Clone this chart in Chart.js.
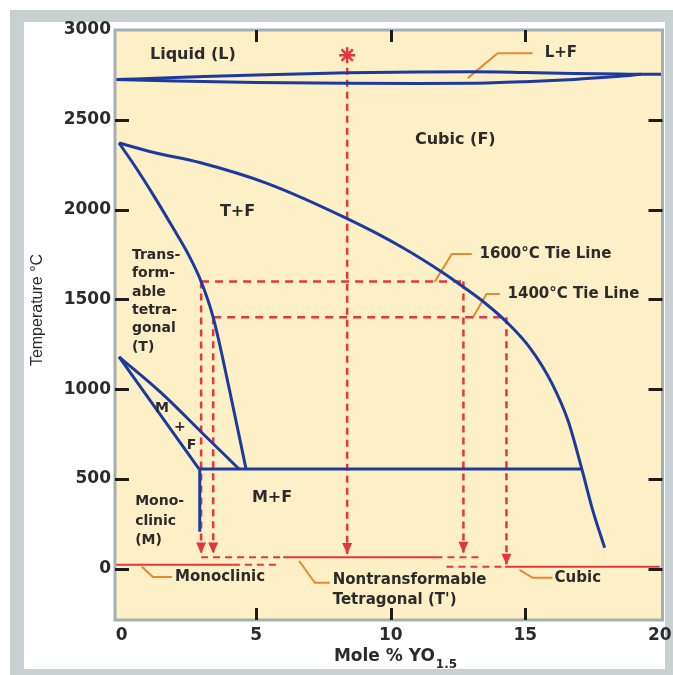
<!DOCTYPE html>
<html>
<head>
<meta charset="utf-8">
<script src="https://cdn.jsdelivr.net/npm/chart.js@4.4.0/dist/chart.umd.min.js"></script>
<style>
  html, body { margin: 0; padding: 0; background: #fff; }
</style>
</head>
<body>
<canvas id="phaseChart" width="673" height="675"></canvas>
<script>
// Axis ticks
const xTicks = [0, 5, 10, 15, 20];
const yTicks = [0, 500, 1000, 1500, 2000, 2500, 3000];

// Phase boundaries [mole % YO1.5, temperature °C]
const liquidUpper = [[-0.25, 2724], [2, 2735], [5, 2750], [8.4, 2762], [11, 2766], [13, 2767], [15, 2763], [16.8, 2758], [18.5, 2755], [19.3, 2753], [20.1, 2753]];
const liquidLower = [[-0.25, 2724], [2, 2716], [5, 2708], [8.4, 2703], [11, 2702], [13, 2703], [15, 2712], [16.8, 2725], [18.5, 2742], [19.3, 2753]];
const cubicBoundary = [[-0.1, 2371], [1.2, 2318], [2.9, 2262], [5.4, 2146], [8.4, 1948], [10.4, 1792], [11.9, 1653], [12.7, 1569], [13.5, 1480], [14.3, 1375], [15.2, 1225], [16.0, 1030], [16.6, 820], [17.1, 556], [17.5, 330], [17.95, 117]];
const tetragonalBoundary = [[-0.1, 2371], [0.5, 2240], [1.2, 2075], [1.9, 1900], [2.45, 1758], [2.95, 1600], [3.4, 1400], [4.0, 1000], [4.62, 556]];
const monoLensUpper = [[-0.1, 1180], [1.47, 979], [3.0, 755], [4.36, 556]];
const monoLensLower = [[-0.1, 1180], [2.87, 556]];
const eutectoid = [[2.87, 556], [17.1, 556]];
const monoVertical = [[2.9, 556], [2.9, 206]];

// Red tie lines and drop lines
const tie1600 = [[2.95, 1600], [12.7, 1600]];
const tie1400 = [[3.4, 1400], [14.3, 1400]];
const dropLines = [
  [[2.95, 1600], [2.95, 85]],
  [[3.4, 1400], [3.4, 85]],
  [[8.38, 2790], [8.38, 83]],
  [[12.7, 1600], [12.7, 90]],
  [[14.3, 1400], [14.3, 22]]
];
const starPoint = [[8.38, 2860]];

// Room temperature phase lines
const monoSolid = [[-0.25, 22], [4.13, 22]];
const monoDashed = [[4.13, 22], [5.8, 22]];
const tPrimeDashedL = [[2.95, 65], [6.0, 65]];
const tPrimeSolid = [[6.0, 65], [11.66, 65]];
const tPrimeDashedR = [[11.66, 65], [13.3, 65]];
const cubicDashed = [[12.07, 12], [14.25, 12]];
const cubicSolid = [[14.25, 12], [20.0, 12]];

// Callout leaders
const leaders = [
  [[12.86, 2732], [13.97, 2871], [15.27, 2871]],
  [[11.63, 1597], [12.27, 1753], [13.01, 1753]],
  [[13.04, 1397], [13.56, 1530], [14.05, 1530]],
  [[0.75, 11], [1.16, -45], [1.87, -45]],
  [[6.59, 45], [7.18, -78], [7.73, -78]],
  [[14.79, -6], [15.27, -50], [16.01, -50]]
];

// Text labels [text, x, y]
const regionLabels = [
  ['Liquid (L)', 1.05, 2860],
  ['Cubic (F)', 10.9, 2387],
  ['T+F', 3.65, 1987],
  ['M+F', 4.84, 395]
];
const smallLabels = [
  ['Trans-', 0.38, 1747], ['form-', 0.38, 1644], ['able', 0.38, 1541],
  ['tetra-', 0.38, 1441], ['gonal', 0.38, 1338], ['(T)', 0.38, 1235],
  ['M', 1.24, 896], ['+', 1.94, 790], ['F', 2.42, 690],
  ['Mono-', 0.5, 373], ['clinic', 0.5, 262], ['(M)', 0.5, 161]
];
const calloutLabels = [
  ['L+F', 15.72, 2871],
  ['1600°C Tie Line', 13.3, 1753],
  ['1400°C Tie Line', 14.34, 1530],
  ['Monoclinic', 1.98, -45],
  ['Nontransformable', 7.84, -61],
  ['Tetragonal (T\')', 7.84, -172],
  ['Cubic', 16.09, -50]
];

const BLUE = '#1d3a9e';
const RED = '#e3363f';
const ORANGE = '#e8882c';
const TEXT = '#2b2b2b';
const FONT = '"DejaVu Sans", sans-serif';

function seg(points, color, width, dash, smooth) {
  return {
    data: points.map(p => ({ x: p[0], y: p[1] })),
    showLine: true,
    borderColor: color,
    backgroundColor: color,
    borderWidth: width,
    borderDash: dash || [],
    pointRadius: 0,
    cubicInterpolationMode: smooth ? 'monotone' : 'default',
    tension: smooth ? 0.4 : 0
  };
}

const datasets = [
  seg(liquidUpper, BLUE, 3, null, true),
  seg(liquidLower, BLUE, 3, null, true),
  seg(cubicBoundary, BLUE, 3, null, true),
  seg(tetragonalBoundary, BLUE, 3, null, true),
  seg(monoLensUpper, BLUE, 3, null, true),
  seg(monoLensLower, BLUE, 3),
  seg(eutectoid, BLUE, 3),
  seg(monoVertical, BLUE, 3),
  seg(tie1600, RED, 2.5, [8, 6]),
  seg(tie1400, RED, 2.5, [8, 6]),
  seg(monoSolid, RED, 2),
  seg(monoDashed, RED, 2, [7, 5]),
  seg(tPrimeDashedL, RED, 2, [7, 5]),
  seg(tPrimeSolid, RED, 2),
  seg(tPrimeDashedR, RED, 2, [7, 5]),
  seg(cubicDashed, RED, 2, [7, 5]),
  seg(cubicSolid, RED, 2)
];
dropLines.forEach(d => datasets.push(seg(d, RED, 2.5, [7, 5])));
leaders.forEach(l => datasets.push(seg(l, ORANGE, 2)));
datasets.push({
  data: starPoint.map(p => ({ x: p[0], y: p[1] })),
  pointStyle: 'star',
  pointRadius: 8,
  borderColor: RED,
  borderWidth: 2.5,
  showLine: false
});

const decor = {
  id: 'decor',
  beforeDraw(chart) {
    const ctx = chart.ctx;
    const a = chart.chartArea;
    ctx.save();
    ctx.fillStyle = '#ffffff';
    ctx.fillRect(0, 0, chart.width, chart.height);
    ctx.fillStyle = '#c8d0d2';
    ctx.fillRect(10, 10, chart.width - 10, chart.height - 10);
    ctx.fillStyle = '#ffffff';
    ctx.fillRect(24, 22, 641, 647);
    ctx.fillStyle = '#fdf0c6';
    ctx.fillRect(a.left, a.top, a.right - a.left, a.bottom - a.top);
    ctx.restore();
  },
  afterDatasetsDraw(chart) {
    const ctx = chart.ctx;
    const a = chart.chartArea;
    const xs = chart.scales.x, ys = chart.scales.y;
    ctx.save();

    // arrow heads at the bottom of the drop lines
    ctx.fillStyle = RED;
    dropLines.forEach(d => {
      const px = xs.getPixelForValue(d[1][0]);
      const py = ys.getPixelForValue(d[1][1]);
      ctx.beginPath();
      ctx.moveTo(px, py);
      ctx.lineTo(px - 5, py - 11);
      ctx.lineTo(px + 5, py - 11);
      ctx.closePath();
      ctx.fill();
    });

    // frame
    ctx.strokeStyle = '#a3afb3';
    ctx.lineWidth = 3;
    ctx.strokeRect(a.left, a.top, a.right - a.left, a.bottom - a.top);

    // inner tick marks
    ctx.strokeStyle = '#1c1c1c';
    ctx.lineWidth = 3;
    yTicks.forEach(v => {
      if (v >= ys.max) return;
      const py = Math.round(ys.getPixelForValue(v)) + 0.5;
      ctx.beginPath();
      ctx.moveTo(a.left, py); ctx.lineTo(a.left + 14, py);
      ctx.moveTo(a.right - 14, py); ctx.lineTo(a.right, py);
      ctx.stroke();
    });
    xTicks.forEach(v => {
      if (v <= 0 || v >= 20) return;
      const px = Math.round(xs.getPixelForValue(v)) + 0.5;
      ctx.beginPath();
      ctx.moveTo(px, a.top); ctx.lineTo(px, a.top + 12);
      ctx.moveTo(px, a.bottom - 12); ctx.lineTo(px, a.bottom);
      ctx.stroke();
    });

    // text labels
    ctx.fillStyle = TEXT;
    ctx.textBaseline = 'middle';
    ctx.textAlign = 'left';
    const put = (list, font) => {
      ctx.font = font;
      list.forEach(l => ctx.fillText(l[0], xs.getPixelForValue(l[1]), ys.getPixelForValue(l[2])));
    };
    put(regionLabels, 'bold 16px ' + FONT);
    put(smallLabels, 'bold 14px ' + FONT);
    put(calloutLabels, 'bold 15px ' + FONT);

    // x axis title with subscript
    const main = 'Mole % YO', sub = '1.5';
    ctx.font = 'bold 17px ' + FONT;
    const w1 = ctx.measureText(main).width;
    ctx.font = 'bold 12px ' + FONT;
    const w2 = ctx.measureText(sub).width;
    const x0 = 395 - (w1 + w2) / 2;
    ctx.font = 'bold 17px ' + FONT;
    ctx.fillText(main, x0, 657);
    ctx.font = 'bold 12px ' + FONT;
    ctx.fillText(sub, x0 + w1 + 1, 665);

    // y axis title
    ctx.translate(38, 310);
    ctx.rotate(-Math.PI / 2);
    ctx.textAlign = 'center';
    ctx.font = '16px "Liberation Sans Narrow", "Liberation Sans", sans-serif';
    ctx.fillText('Temperature °C', 0, 0);
    ctx.restore();
  }
};

new Chart(document.getElementById('phaseChart'), {
  type: 'scatter',
  data: { datasets },
  options: {
    responsive: false,
    animation: false,
    layout: { padding: { top: 30, right: 10, bottom: 0, left: 0 } },
    plugins: { legend: { display: false }, tooltip: { enabled: false } },
    scales: {
      x: {
        type: 'linear',
        min: -0.25,
        max: 20.1,
        border: { display: false },
        grid: { display: false, drawTicks: false },
        afterBuildTicks: s => { s.ticks = xTicks.map(v => ({ value: v })); },
        afterFit: s => { s.height = 55; s.paddingLeft = 0; s.paddingRight = 0; },
        ticks: { padding: 5, color: TEXT, callback: v => String(v), font: { family: FONT, size: 17, weight: 'bold' } }
      },
      y: {
        type: 'linear',
        min: -285,
        max: 3000,
        border: { display: false },
        grid: { display: false, drawTicks: false },
        afterBuildTicks: s => { s.ticks = yTicks.map(v => ({ value: v })); },
        afterFit: s => { s.width = 115; s.paddingTop = 0; s.paddingBottom = 0; },
        ticks: { padding: 4, color: TEXT, callback: v => String(v), font: { family: FONT, size: 17, weight: 'bold' } }
      }
    }
  },
  plugins: [decor]
});
</script>
</body>
</html>
